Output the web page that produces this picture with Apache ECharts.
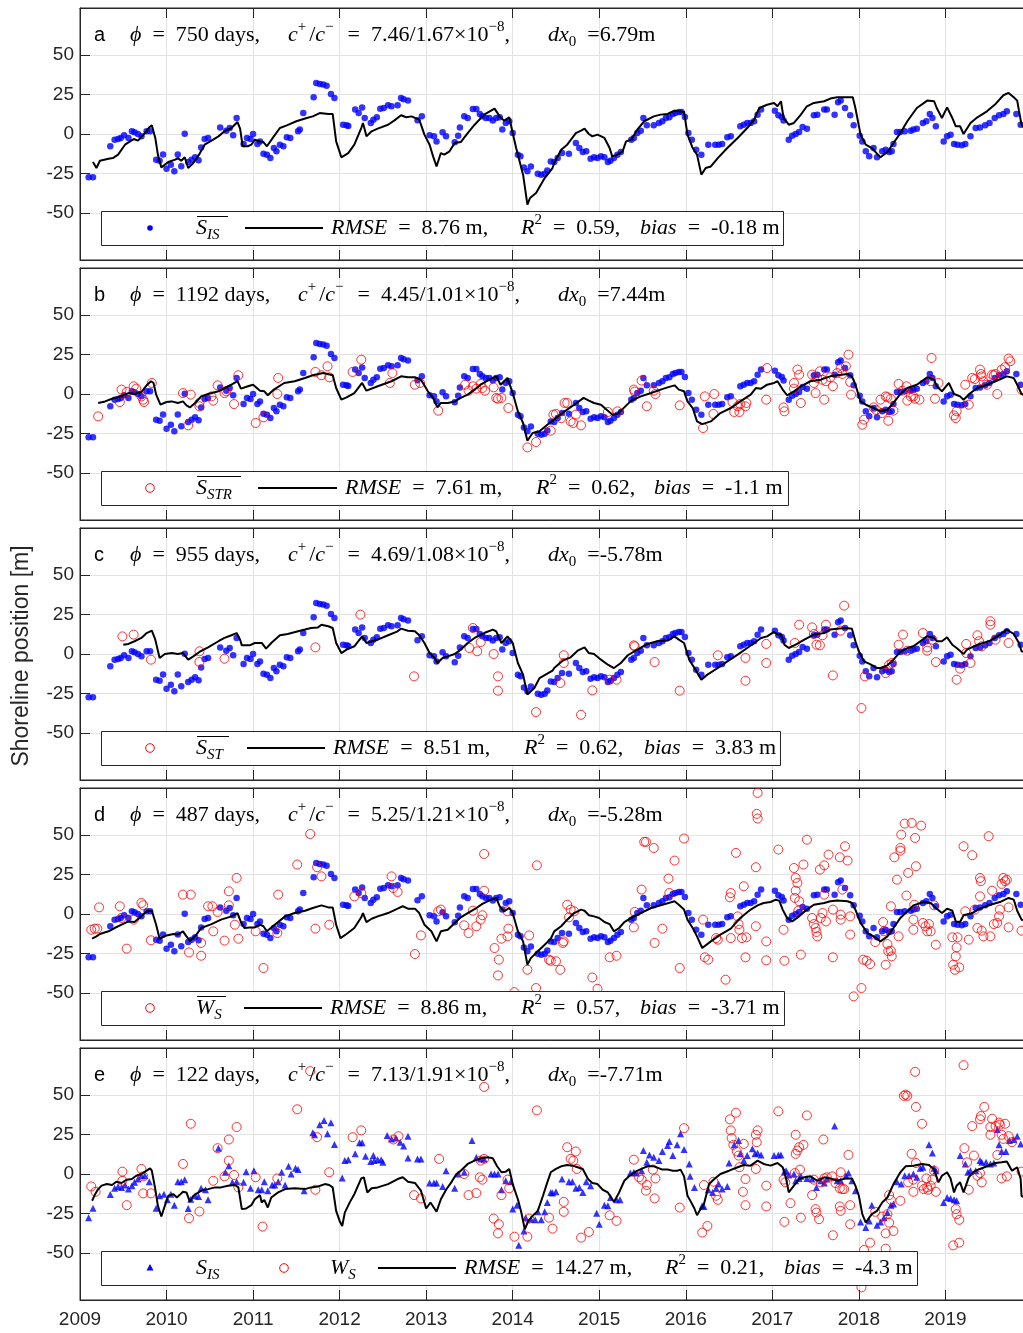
<!DOCTYPE html>
<html>
<head>
<meta charset="utf-8">
<script src="https://cdn.jsdelivr.net/npm/echarts@6/dist/echarts.min.js"></script>
<style>
html, body { margin: 0; padding: 0; background: #fff; }
#chart { width: 1023px; height: 1333px; }
</style>
</head>
<body>
<div id="chart"></div>
<script>
// ---- data (decimal year, shoreline position in m) ----
const yearTicks = [2009, 2010, 2011, 2012, 2013, 2014, 2015, 2016, 2017, 2018, 2019];
const posTicks = [-50, -25, 0, 25, 50];

// averaged image-derived shoreline (blue dots, panels a-d)
const sisMean = [[2009.10,-27.5],[2009.15,-27.5],[2009.35,-7.8],[2009.40,-3.6],[2009.44,-3.2],[2009.47,-2.5],[2009.51,-0.8],[2009.56,-2.5],[2009.60,1.7],[2009.63,1.1],[2009.67,0],[2009.71,-1.5],[2009.77,1.7],[2009.81,1.7],[2009.88,-16.3],[2009.92,-17],[2009.96,-13],[2010.00,-22],[2010.05,-19.5],[2010.09,-23.7],[2010.13,-13],[2010.17,-20.5],[2010.21,0.2],[2010.25,-17.8],[2010.29,-16.3],[2010.33,-14.8],[2010.37,-16.7],[2010.40,-8.5],[2010.44,-3.2],[2010.48,-2.5],[2010.62,4.2],[2010.69,2.1],[2010.73,3.8],[2010.77,-0.8],[2010.81,10.2],[2010.89,-6.4],[2010.93,-2.5],[2010.97,-3.2],[2011.00,0],[2011.05,-6.4],[2011.08,-4.7],[2011.12,-12.5],[2011.16,-13.1],[2011.20,-15.3],[2011.24,-8.9],[2011.27,-11],[2011.31,-6.8],[2011.35,-7.8],[2011.39,-2.1],[2011.43,-2.5],[2011.52,1.7],[2011.54,2.8],[2011.58,13.3],[2011.70,23.3],[2011.73,32.4],[2011.77,31.8],[2011.81,31.4],[2011.85,30.7],[2011.90,25.4],[2011.94,22.9],[2012.04,5.9],[2012.08,5.5],[2012.10,5.1],[2012.18,15.5],[2012.22,13.3],[2012.26,16.9],[2012.29,10.2],[2012.36,7.0],[2012.39,9.1],[2012.43,10.6],[2012.47,16.1],[2012.51,16.5],[2012.56,18.2],[2012.60,17.6],[2012.67,18.2],[2012.71,22.9],[2012.74,22.0],[2012.79,21.2],[2012.90,8.7],[2012.95,11.2],[2013.04,-0.8],[2013.09,-1.5],[2013.12,-4.7],[2013.19,1.1],[2013.23,-1.5],[2013.33,-5.3],[2013.37,-1.1],[2013.39,4.2],[2013.44,11.2],[2013.48,10.2],[2013.54,15.9],[2013.58,15.9],[2013.62,12.7],[2013.65,11.2],[2013.69,10.2],[2013.73,10.2],[2013.77,8.5],[2013.81,10.2],[2013.85,10.6],[2013.88,2.8],[2013.92,7],[2013.96,8.1],[2014.00,0.6],[2014.06,-13.1],[2014.09,-14.2],[2014.13,-21.2],[2014.17,-23.7],[2014.21,-20.6],[2014.29,-25.2],[2014.33,-25.8],[2014.37,-25.2],[2014.40,-23.1],[2014.44,-17.4],[2014.48,-17.8],[2014.52,-15.3],[2014.57,-12.1],[2014.65,-12.5],[2014.73,-5.7],[2014.77,-8.9],[2014.81,-11.4],[2014.85,-11],[2014.90,-15.7],[2014.94,-14.8],[2014.98,-15.3],[2015.02,-14.2],[2015.06,-14.8],[2015.10,-17.8],[2015.13,-17],[2015.17,-15.3],[2015.21,-13.1],[2015.25,-11.4],[2015.37,-3.6],[2015.40,-2.5],[2015.44,0.6],[2015.48,2.1],[2015.51,10.2],[2015.55,5.5],[2015.63,5.5],[2015.69,7],[2015.73,8.1],[2015.77,10.2],[2015.81,10.6],[2015.85,12.7],[2015.88,13.3],[2015.92,14],[2015.95,14],[2015.99,10.8],[2016.03,0.6],[2016.07,-3.6],[2016.12,-10],[2016.18,-13.1],[2016.26,-6.8],[2016.34,-6.8],[2016.38,-6.8],[2016.42,-6.4],[2016.48,-2.1],[2016.52,-1.5],[2016.63,4.9],[2016.67,5.9],[2016.71,7],[2016.75,7],[2016.79,8.1],[2016.83,12.3],[2016.87,15.5],[2017.03,14.8],[2017.07,11.9],[2017.11,10.8],[2017.13,8.5],[2017.19,-3.6],[2017.23,-1.1],[2017.27,0],[2017.31,1.3],[2017.35,4.4],[2017.40,3.4],[2017.48,11.9],[2017.52,12.3],[2017.60,15.5],[2017.63,15.5],[2017.72,12.3],[2017.76,20.1],[2017.79,21.2],[2017.84,16.5],[2017.90,11.9],[2017.94,5.5],[2018.01,-1.1],[2018.04,-4.7],[2018.08,-11],[2018.12,-14.2],[2018.17,-8.9],[2018.21,-14.8],[2018.27,-11],[2018.31,-10],[2018.35,-11.4],[2018.38,-11],[2018.40,-6.4],[2018.44,1.3],[2018.48,1.3],[2018.53,1.7],[2018.60,2.1],[2018.63,2.8],[2018.67,3.4],[2018.74,7],[2018.78,8.1],[2018.82,12.7],[2018.85,10.2],[2018.89,4.9],[2018.98,-4.7],[2019.02,-1.5],[2019.06,-0.4],[2019.10,-6.4],[2019.14,-6.8],[2019.19,-7.2],[2019.23,-6.4],[2019.29,-1.5],[2019.35,3.8],[2019.40,4.2],[2019.46,5.5],[2019.51,7],[2019.57,10.2],[2019.62,11.9],[2019.67,12.7],[2019.71,14.4],[2019.82,12.7],[2019.87,5.9]];

// model results (black lines)
const modelA = [[2009.15,-17.8],[2009.19,-21.6],[2009.23,-17],[2009.33,-15.7],[2009.38,-15.3],[2009.44,-13.1],[2009.52,-6.8],[2009.62,-3.2],[2009.67,-4.2],[2009.75,0.6],[2009.80,4.2],[2009.83,5.5],[2009.87,-2.5],[2009.90,-13.1],[2009.94,-21.2],[2010.02,-17.8],[2010.10,-16.3],[2010.13,-15.3],[2010.17,-17],[2010.21,-14.8],[2010.25,-21.6],[2010.31,-18.4],[2010.37,-13.6],[2010.44,-6.8],[2010.52,-4.2],[2010.60,-1.5],[2010.67,1.7],[2010.75,3.8],[2010.82,7.6],[2010.85,3.4],[2010.88,-7.8],[2010.94,-7.8],[2010.98,-6.8],[2011.02,-3.6],[2011.08,-4.7],[2011.12,-5.1],[2011.16,-7.8],[2011.24,-1.5],[2011.31,3.8],[2011.39,5.5],[2011.50,8.1],[2011.62,10.2],[2011.69,11.2],[2011.77,13.3],[2011.87,12.7],[2011.92,12.7],[2011.96,-4.7],[2012.02,-14.8],[2012.10,-12.1],[2012.17,-6.8],[2012.25,3.8],[2012.27,7],[2012.31,-1.5],[2012.37,1.7],[2012.44,3.4],[2012.56,5.9],[2012.63,8.5],[2012.71,11.9],[2012.77,10.6],[2012.83,11.2],[2012.87,10.2],[2012.92,9.1],[2012.98,-0.4],[2013.04,-6.8],[2013.08,-14.2],[2013.12,-20.6],[2013.17,-12.1],[2013.21,-13.1],[2013.27,-11],[2013.33,-5.7],[2013.40,-5.1],[2013.48,0.6],[2013.56,5.9],[2013.67,12.3],[2013.79,16.1],[2013.85,11.2],[2013.90,8.5],[2013.96,10.6],[2014.00,0.6],[2014.04,-8.9],[2014.12,-25.8],[2014.17,-44.9],[2014.20,-40.7],[2014.27,-37.5],[2014.37,-28],[2014.46,-21.6],[2014.48,-18.4],[2014.56,-10],[2014.63,-6.8],[2014.73,0.6],[2014.79,2.1],[2014.83,3.4],[2014.88,0],[2014.92,-1.5],[2014.98,-0.4],[2015.06,-2.5],[2015.12,-8.9],[2015.15,-14.2],[2015.21,-13.1],[2015.27,-11],[2015.31,-4.7],[2015.37,-3.6],[2015.44,2.8],[2015.52,8.1],[2015.63,11.2],[2015.71,12.3],[2015.79,12.7],[2015.87,14.8],[2015.92,14.4],[2015.98,14],[2016.02,-0.4],[2016.08,-8.9],[2016.13,-13.1],[2016.18,-25.8],[2016.23,-21.6],[2016.29,-20.6],[2016.37,-15.3],[2016.48,-8.9],[2016.60,-2.5],[2016.71,3.8],[2016.79,9.1],[2016.85,16.5],[2016.94,18.6],[2017.02,19.7],[2017.06,17.6],[2017.10,20.8],[2017.13,10.2],[2017.19,5.9],[2017.25,7],[2017.33,12.3],[2017.40,17.6],[2017.48,19.7],[2017.60,20.8],[2017.67,22.5],[2017.75,23.3],[2017.87,23.3],[2017.93,23.3],[2017.96,16.5],[2018.02,-0.4],[2018.08,-6.8],[2018.15,-8.9],[2018.25,-14.8],[2018.33,-11.4],[2018.40,-5.7],[2018.48,0.6],[2018.56,8.1],[2018.67,16.5],[2018.79,21.2],[2018.87,20.8],[2018.90,16.5],[2018.96,10.2],[2019.02,16.9],[2019.08,10.2],[2019.12,4.9],[2019.17,4.9],[2019.21,0],[2019.29,7],[2019.37,10.6],[2019.48,14.4],[2019.58,19.1],[2019.67,24.6],[2019.73,26.1],[2019.79,23.3],[2019.83,21.2],[2019.85,14.8],[2019.88,5.9],[2019.92,3]];

const modelB = [[2009.21,-5.7],[2009.29,-4.7],[2009.37,-3],[2009.44,-2.1],[2009.56,0.6],[2009.63,0],[2009.71,1.3],[2009.77,5.5],[2009.82,8.1],[2009.85,7],[2009.88,-0.4],[2009.93,-6.8],[2010.00,-5.1],[2010.06,-4.7],[2010.13,-5.7],[2010.19,-4.7],[2010.23,-7.2],[2010.27,-8.5],[2010.33,-5.7],[2010.40,-1.5],[2010.48,0],[2010.60,1.7],[2010.67,3.8],[2010.75,5.9],[2010.82,8.1],[2010.86,3.4],[2010.94,4.9],[2011.00,5.9],[2011.08,2.1],[2011.13,1.7],[2011.17,-0.8],[2011.24,2.8],[2011.36,7],[2011.48,8.1],[2011.60,10.2],[2011.69,11.9],[2011.81,13.3],[2011.92,11.9],[2011.96,3.8],[2012.02,-3.6],[2012.08,-2.1],[2012.17,0.6],[2012.26,7],[2012.31,2.1],[2012.44,4.9],[2012.60,8.1],[2012.71,11.2],[2012.79,10.6],[2012.87,10.6],[2012.94,9.1],[2013.02,1.7],[2013.08,-2.5],[2013.13,-8.5],[2013.17,-5.7],[2013.25,-5.7],[2013.33,-4.7],[2013.40,-2.5],[2013.48,-0.4],[2013.56,2.8],[2013.63,5.9],[2013.73,9.1],[2013.81,11.2],[2013.86,5.9],[2013.94,10.2],[2014.00,0.6],[2014.06,-11],[2014.12,-18.4],[2014.17,-29.7],[2014.23,-24.8],[2014.31,-23.7],[2014.40,-19.5],[2014.46,-17],[2014.48,-16.3],[2014.60,-11],[2014.71,-6.8],[2014.82,-2.5],[2014.88,-4.2],[2014.94,-5.7],[2015.02,-6.8],[2015.10,-10.6],[2015.15,-13.1],[2015.21,-12.7],[2015.29,-8.5],[2015.37,-4.2],[2015.48,-1.5],[2015.60,0.6],[2015.71,2.8],[2015.79,4.2],[2015.87,5.5],[2015.92,2.8],[2015.98,1.7],[2016.02,-4.7],[2016.08,-8.9],[2016.13,-17.4],[2016.19,-19.1],[2016.29,-17.4],[2016.40,-12.1],[2016.52,-8.9],[2016.63,-4.7],[2016.75,-0.4],[2016.81,3.8],[2016.87,3.4],[2016.94,5.9],[2017.02,7],[2017.06,8.1],[2017.12,2.8],[2017.17,-0.8],[2017.25,1.7],[2017.33,4.9],[2017.44,8.1],[2017.56,9.1],[2017.67,11.2],[2017.75,11.9],[2017.87,12.7],[2017.92,11.2],[2017.96,5.9],[2018.02,-4.7],[2018.08,-6.8],[2018.17,-8.9],[2018.25,-11],[2018.33,-10],[2018.40,-5.7],[2018.48,0],[2018.56,3.8],[2018.67,5.9],[2018.79,10.6],[2018.87,9.1],[2018.90,4.9],[2018.96,1.7],[2019.04,7],[2019.10,0],[2019.17,-1.5],[2019.21,-3.6],[2019.29,0.6],[2019.37,3.8],[2019.48,5.9],[2019.58,8.1],[2019.71,11.2],[2019.79,10.2],[2019.83,5.9],[2019.88,0],[2019.92,-1]];

const modelC = [[2009.50,5.9],[2009.56,6.4],[2009.63,8.1],[2009.71,10.2],[2009.77,13.3],[2009.83,14.8],[2009.87,9.1],[2009.92,-2.5],[2009.98,0],[2010.06,0.6],[2010.13,0],[2010.19,0.6],[2010.25,-3.6],[2010.31,-1.5],[2010.38,1.3],[2010.48,4.2],[2010.60,8.1],[2010.67,10.2],[2010.75,11.9],[2010.81,13.3],[2010.85,9.1],[2010.87,5.5],[2010.96,5.5],[2011.02,7],[2011.10,7],[2011.15,3.4],[2011.21,7],[2011.31,11.9],[2011.40,12.7],[2011.52,14.4],[2011.60,15.5],[2011.67,16.5],[2011.75,16.9],[2011.79,18.6],[2011.87,17.6],[2011.92,16.5],[2011.96,7],[2012.02,0.6],[2012.08,2.8],[2012.17,4.9],[2012.26,11.2],[2012.31,7],[2012.37,8.1],[2012.44,9.1],[2012.56,11.9],[2012.67,14.4],[2012.71,16.1],[2012.79,14.8],[2012.87,14.4],[2012.92,11.9],[2012.98,7],[2013.04,0.6],[2013.10,-2.5],[2013.13,-5.7],[2013.19,-2.5],[2013.25,-1.5],[2013.33,0],[2013.40,2.8],[2013.48,7],[2013.56,10.2],[2013.67,13.3],[2013.77,15.5],[2013.81,14.4],[2013.87,7],[2013.94,11.2],[2014.00,7],[2014.06,-5.7],[2014.12,-13.1],[2014.17,-25.8],[2014.25,-21.6],[2014.31,-15.3],[2014.38,-13.1],[2014.46,-10.6],[2014.48,-8.9],[2014.58,-4.2],[2014.67,-2.1],[2014.75,2.1],[2014.83,4.2],[2014.88,0.6],[2014.94,0],[2015.02,-3.6],[2015.10,-6.8],[2015.17,-8.9],[2015.25,-5.7],[2015.33,-0.8],[2015.44,2.8],[2015.56,6.4],[2015.67,8.1],[2015.79,8.5],[2015.87,11.2],[2015.92,9.1],[2015.98,7],[2016.04,-3.6],[2016.10,-8.9],[2016.18,-16.3],[2016.25,-13.1],[2016.37,-8.9],[2016.48,-4.7],[2016.60,-0.4],[2016.71,3.8],[2016.79,7],[2016.87,10.2],[2016.94,11.2],[2017.02,14],[2017.06,12.3],[2017.10,12.7],[2017.14,5.9],[2017.19,3.8],[2017.27,5.9],[2017.37,9.1],[2017.48,12.3],[2017.60,13.3],[2017.67,15.5],[2017.75,16.1],[2017.85,16.5],[2017.92,16.1],[2017.96,8.1],[2018.00,1.7],[2018.06,-4.7],[2018.13,-6.4],[2018.21,-8.9],[2018.25,-8.9],[2018.33,-7.2],[2018.40,-3.6],[2018.48,1.3],[2018.56,3.8],[2018.63,4.9],[2018.71,8.1],[2018.79,11.2],[2018.87,10.2],[2018.90,8.1],[2018.96,8.1],[2019.02,10.6],[2019.08,5.9],[2019.13,3.8],[2019.21,0],[2019.25,2.8],[2019.33,4.9],[2019.40,6.4],[2019.52,8.5],[2019.63,12.3],[2019.71,15.5],[2019.79,12.7],[2019.85,7],[2019.88,1.7],[2019.92,1]];

const modelD = [[2009.14,-15.7],[2009.19,-14.2],[2009.23,-12.7],[2009.33,-11],[2009.40,-8.9],[2009.48,-6.8],[2009.56,-4.7],[2009.63,-5.1],[2009.71,-1.5],[2009.77,1.7],[2009.83,2.1],[2009.88,-6.8],[2009.92,-15.7],[2010.00,-13.6],[2010.08,-12.7],[2010.13,-13.1],[2010.19,-11],[2010.23,-14.2],[2010.27,-16.9],[2010.33,-14.2],[2010.40,-8.9],[2010.52,-6.4],[2010.63,-3.6],[2010.75,-1.5],[2010.82,0.6],[2010.86,-5.1],[2010.90,-8.9],[2010.96,-8.5],[2011.02,-8.5],[2011.08,-6.8],[2011.12,-7.8],[2011.16,-11],[2011.25,-6.8],[2011.37,-1.5],[2011.48,0.6],[2011.60,2.1],[2011.69,3.8],[2011.79,5.5],[2011.87,4.2],[2011.92,4.2],[2011.96,-6.8],[2012.01,-15.3],[2012.08,-12.7],[2012.17,-8.9],[2012.25,-2.1],[2012.27,0.6],[2012.31,-5.1],[2012.37,-3],[2012.44,-1.5],[2012.56,0.6],[2012.67,3.4],[2012.73,4.9],[2012.79,3.4],[2012.87,3.4],[2012.92,0.6],[2012.98,-6.8],[2013.06,-11],[2013.12,-17.4],[2013.17,-11],[2013.25,-10],[2013.33,-5.7],[2013.40,-2.1],[2013.48,0.6],[2013.58,3.8],[2013.65,6.4],[2013.75,9.1],[2013.81,10.2],[2013.85,4.9],[2013.90,1.7],[2013.96,3.8],[2014.00,0.6],[2014.06,-11],[2014.12,-17.4],[2014.17,-32.2],[2014.21,-28],[2014.29,-23.7],[2014.37,-19.5],[2014.44,-15.7],[2014.48,-11],[2014.56,-7.8],[2014.63,-3.6],[2014.71,0.6],[2014.79,2.8],[2014.83,2.1],[2014.88,-0.8],[2014.94,-1.5],[2015.00,-2.5],[2015.06,-5.1],[2015.12,-6.4],[2015.17,-11],[2015.23,-8.9],[2015.29,-5.1],[2015.37,-2.5],[2015.48,0.6],[2015.60,3.8],[2015.71,5.5],[2015.87,8.1],[2015.92,5.9],[2015.98,2.8],[2016.02,-3.6],[2016.08,-8.9],[2016.13,-14.2],[2016.19,-21.6],[2016.29,-17.4],[2016.40,-13.1],[2016.52,-9.3],[2016.63,-2.5],[2016.75,2.8],[2016.83,5.5],[2016.90,7],[2016.98,7.6],[2017.04,9.1],[2017.08,8.5],[2017.12,2.8],[2017.17,-2.5],[2017.23,-4.7],[2017.31,-1.5],[2017.40,2.8],[2017.48,5.9],[2017.60,7],[2017.67,8.1],[2017.75,8.5],[2017.87,8.1],[2017.92,7],[2017.96,2.8],[2018.02,-5.7],[2018.10,-12.1],[2018.17,-14.2],[2018.25,-17.4],[2018.33,-14.2],[2018.40,-8.9],[2018.48,-2.5],[2018.56,1.7],[2018.63,5.5],[2018.75,7.6],[2018.83,7],[2018.90,3.4],[2018.96,0.6],[2019.02,3.4],[2019.08,2.1],[2019.12,-4.7],[2019.17,-5.1],[2019.21,-0.8],[2019.31,0.6],[2019.40,3.4],[2019.52,5.9],[2019.63,7.6],[2019.73,10.2],[2019.79,9.1],[2019.83,2.1],[2019.88,-3.6],[2019.92,-4]];

const modelE = [[2009.14,-17],[2009.17,-13.4],[2009.21,-9.6],[2009.25,-7.4],[2009.31,-6.4],[2009.37,-7],[2009.42,-4.9],[2009.48,-5.7],[2009.54,-3.6],[2009.60,-3.2],[2009.65,-1.1],[2009.71,0],[2009.77,2.1],[2009.81,3.6],[2009.83,2.1],[2009.87,-9.6],[2009.90,-20.2],[2009.94,-27],[2009.98,-20.2],[2010.02,-13.8],[2010.08,-12.8],[2010.12,-14.9],[2010.15,-13.4],[2010.19,-11.3],[2010.23,-11.7],[2010.27,-17.7],[2010.31,-13.8],[2010.37,-11.7],[2010.42,-10],[2010.48,-9.6],[2010.56,-8.5],[2010.63,-8.5],[2010.71,-7.4],[2010.79,-7],[2010.83,-8.5],[2010.87,-22.3],[2010.92,-21.9],[2010.98,-19.8],[2011.02,-16],[2011.08,-13.4],[2011.10,-18.1],[2011.13,-16.4],[2011.17,-21.3],[2011.21,-14.9],[2011.29,-11.7],[2011.37,-9.6],[2011.48,-9.1],[2011.60,-9.6],[2011.67,-8.5],[2011.75,-7.9],[2011.83,-6.4],[2011.88,-7],[2011.92,-8.5],[2011.96,-23.4],[2012.00,-29.8],[2012.03,-33],[2012.06,-24.5],[2012.12,-17.7],[2012.17,-12.8],[2012.25,-2.8],[2012.28,-2.1],[2012.32,-11.7],[2012.37,-9.1],[2012.44,-8.5],[2012.56,-6.4],[2012.67,-3.2],[2012.73,-2.1],[2012.79,-4.9],[2012.87,-5.7],[2012.94,-10.6],[2013.00,-21.9],[2013.05,-18.1],[2013.12,-24],[2013.17,-16],[2013.23,-10],[2013.29,-5.3],[2013.35,0],[2013.40,2.1],[2013.48,6.4],[2013.56,8.5],[2013.63,10],[2013.71,10.6],[2013.77,10],[2013.82,4.9],[2013.87,1.1],[2013.92,1.5],[2013.96,3.2],[2014.00,-6.4],[2014.06,-16],[2014.10,-24.5],[2014.14,-35.1],[2014.18,-29.8],[2014.23,-26.6],[2014.29,-23.4],[2014.35,-13.8],[2014.40,-5.3],[2014.44,1.1],[2014.50,3.2],[2014.56,4.9],[2014.63,5.7],[2014.69,5.3],[2014.75,4.3],[2014.81,3.2],[2014.87,-3.2],[2014.92,-5.7],[2014.98,-6.4],[2015.04,-10],[2015.10,-11.7],[2015.15,-16],[2015.17,-17.7],[2015.23,-11.7],[2015.29,-4.3],[2015.35,-1.1],[2015.42,1.5],[2015.50,3.6],[2015.56,4.9],[2015.63,4.9],[2015.73,2.8],[2015.79,2.8],[2015.85,2.1],[2015.90,2.1],[2015.94,2.8],[2015.98,-1.5],[2016.02,-13.8],[2016.06,-17.7],[2016.10,-21.9],[2016.13,-26.2],[2016.17,-22.3],[2016.21,-19.1],[2016.27,-6.4],[2016.33,-3.2],[2016.40,0],[2016.50,2.1],[2016.60,4.3],[2016.67,5.7],[2016.75,5.3],[2016.83,8.5],[2016.90,6.4],[2016.98,5.3],[2017.06,7],[2017.12,4.3],[2017.16,-3.2],[2017.19,-11.7],[2017.25,-7.4],[2017.31,-3.2],[2017.37,-2.1],[2017.44,-1.5],[2017.52,-4.3],[2017.60,-2.1],[2017.67,-2.8],[2017.75,-4.3],[2017.85,-2.8],[2017.92,-2.8],[2017.96,-7.4],[2018.00,-13.8],[2018.04,-25.5],[2018.08,-30.9],[2018.12,-27.7],[2018.15,-25.5],[2018.21,-23.4],[2018.27,-18.1],[2018.33,-14.9],[2018.40,-6.4],[2018.48,1.1],[2018.54,4.9],[2018.63,5.3],[2018.73,6.4],[2018.81,5.7],[2018.87,2.8],[2018.92,-5.3],[2018.96,-1.1],[2019.02,1.1],[2019.06,-2.8],[2019.10,-11.7],[2019.13,-7.4],[2019.17,-5.3],[2019.21,-11.7],[2019.27,-2.1],[2019.33,1.5],[2019.40,3.2],[2019.48,4.9],[2019.58,7],[2019.65,7.4],[2019.71,7.9],[2019.77,2.1],[2019.83,4.3],[2019.87,-3.2],[2019.88,-14],[2019.92,-15]];

// panel b: S_STR observations (red circles)
const sStr = [[2009.21,-14.2],[2009.46,-5.1],[2009.48,2.8],[2009.54,1.3],[2009.62,4.9],[2009.65,3.4],[2009.71,-1.5],[2009.73,-3.6],[2009.74,-5.1],[2009.83,7],[2010.19,0.6],[2010.25,-19.9],[2010.28,-0.4],[2010.38,-7.8],[2010.38,-5.7],[2010.52,-1.5],[2010.54,-4.2],[2010.59,5.5],[2010.67,0.6],[2010.69,1.7],[2010.78,-6.4],[2010.83,11.9],[2011.03,-18.4],[2011.12,-14.8],[2011.28,0],[2011.29,10.2],[2011.72,14],[2011.79,11.9],[2011.86,17.6],[2011.88,10.6],[2012.15,14],[2012.25,21.8],[2012.58,7],[2012.61,13.3],[2012.87,5.9],[2012.93,7],[2013.14,-10.6],[2013.45,5.9],[2013.49,2.1],[2013.54,4.9],[2013.58,3.4],[2013.63,6.4],[2013.65,3.8],[2013.68,2.1],[2013.78,4.2],[2013.81,-2.5],[2013.83,-3],[2013.87,-2.5],[2013.95,-8.9],[2014.17,-33.9],[2014.27,-30.5],[2014.44,-23.3],[2014.47,-13.1],[2014.50,-12.7],[2014.56,-15.3],[2014.60,-5.7],[2014.63,-5.7],[2014.67,-17.4],[2014.70,-18.4],[2014.73,-13.1],[2014.79,-19.9],[2015.10,-11.4],[2015.21,-11],[2015.40,2.8],[2015.41,1.5],[2015.49,8.5],[2015.55,-7.8],[2015.63,2.1],[2015.65,0],[2015.93,-7.2],[2016.20,-21.6],[2016.22,-1.5],[2016.32,-12.7],[2016.33,0],[2016.54,-5.1],[2016.56,-11.4],[2016.60,-7.8],[2016.62,-11.4],[2016.63,-6.4],[2016.69,-7.8],[2016.70,-5.7],[2016.93,-3.6],[2016.94,16.5],[2017.13,-8.5],[2017.14,-11],[2017.25,3.4],[2017.25,7],[2017.29,15.5],[2017.31,12.3],[2017.33,-5.7],[2017.46,12.3],[2017.48,7],[2017.50,0.6],[2017.52,10.2],[2017.55,14.4],[2017.58,9],[2017.60,-3.6],[2017.62,8.1],[2017.67,10.6],[2017.70,4.9],[2017.75,13.3],[2017.79,16.5],[2017.81,12.7],[2017.85,17.6],[2017.88,25],[2017.90,7.6],[2017.91,-0.4],[2018.04,-19.5],[2018.06,-16.3],[2018.17,-8.5],[2018.20,-10],[2018.25,-3.6],[2018.27,-12.1],[2018.31,-1.5],[2018.33,-2],[2018.34,-17],[2018.37,-3],[2018.40,-10.6],[2018.46,6.4],[2018.50,2.1],[2018.55,4.9],[2018.56,-4.2],[2018.60,-1.5],[2018.63,-1.5],[2018.65,-3],[2018.70,-3.6],[2018.83,8.1],[2018.84,22.9],[2018.88,-3],[2018.92,7],[2019.10,-13.6],[2019.12,-15.3],[2019.13,-11],[2019.23,5.9],[2019.27,-6.8],[2019.31,10.2],[2019.34,9.5],[2019.40,15.5],[2019.41,12.7],[2019.42,11.2],[2019.44,8.1],[2019.48,5.9],[2019.54,12.3],[2019.56,11.9],[2019.58,12.7],[2019.60,0],[2019.65,15.5],[2019.69,17],[2019.73,22.5],[2019.75,20.8],[2019.88,2.8]];

// panel c: S_ST observations
const sSt = [[2009.49,11.2],[2009.62,12.3],[2009.82,-3.6],[2010.38,1.7],[2010.38,-5.1],[2010.67,-3],[2011.72,4.2],[2012.24,25],[2012.86,-14.2],[2013.50,3.8],[2013.54,16.5],[2013.59,1.7],[2013.63,7.6],[2013.78,0],[2013.83,-14.2],[2013.83,-23.3],[2014.27,-36.9],[2014.55,-18.4],[2014.59,-0.8],[2014.59,-5.7],[2014.79,-38.6],[2014.92,-23.1],[2015.12,-16.3],[2015.20,-16.3],[2015.40,5.5],[2015.41,4.9],[2015.64,-5.1],[2015.93,-23.3],[2016.37,-0.8],[2016.69,-2.5],[2016.69,-17],[2016.93,6.4],[2016.93,-5.7],[2017.26,7],[2017.31,18.6],[2017.46,16.9],[2017.48,12.7],[2017.51,5.9],[2017.55,5.5],[2017.58,11.9],[2017.62,18.6],[2017.70,-13.6],[2017.79,14.8],[2017.83,30.7],[2018.03,-34.3],[2018.07,-14.2],[2018.31,-12.1],[2018.35,-6.8],[2018.38,-5.7],[2018.46,5.9],[2018.51,12.3],[2018.56,2.1],[2018.74,13.3],[2018.79,4.2],[2018.79,2.1],[2018.85,9.1],[2018.89,-5.1],[2019.13,-16.3],[2019.17,-9.3],[2019.24,6.4],[2019.24,0.6],[2019.29,-5.7],[2019.37,11.9],[2019.39,8.1],[2019.42,4.9],[2019.52,20.8],[2019.52,18.6],[2019.58,9.1],[2019.73,7]];

// panel d: W_S observations
const wsD = [[2009.13,-10],[2009.17,-9.3],[2009.20,-9.3],[2009.22,4.2],[2009.46,4.9],[2009.48,-2.5],[2009.54,-22],[2009.62,-3.6],[2009.71,7],[2009.73,5.5],[2009.82,-16.7],[2010.19,12.3],[2010.28,12.3],[2010.26,-24.4],[2010.40,-18.4],[2010.40,-26.5],[2010.48,4.9],[2010.53,4.9],[2010.54,-11],[2010.59,1.3],[2010.67,-16.9],[2010.72,14.4],[2010.72,5.5],[2010.79,-6.8],[2010.81,22.9],[2010.83,-15.7],[2011.03,-11],[2011.12,-34.3],[2011.29,12.3],[2011.28,-12.1],[2011.51,31.4],[2011.66,50.8],[2011.74,29.7],[2011.79,23.9],[2011.72,-9.3],[2011.88,-6.8],[2012.17,11.2],[2012.25,13.3],[2012.60,23.9],[2012.62,16.5],[2012.67,14],[2012.87,-25.4],[2012.94,-13.6],[2013.14,1.7],[2013.17,2.8],[2013.44,-7.2],[2013.49,-12.1],[2013.54,2.1],[2013.58,-7.8],[2013.63,-3.6],[2013.65,-0.8],[2013.67,14.8],[2013.67,38.1],[2013.79,-21.6],[2013.84,-29],[2013.83,-39],[2013.87,-15.7],[2013.94,-14.2],[2013.95,-9.3],[2013.94,1.7],[2014.02,-49.6],[2014.17,-35.4],[2014.19,-13.6],[2014.27,-47],[2014.28,30.9],[2014.42,-29],[2014.44,-29.7],[2014.50,-30],[2014.55,-35.4],[2014.58,-18.4],[2014.59,-17.4],[2014.63,5.9],[2014.65,-2.1],[2014.67,2.8],[2014.71,1.7],[2014.92,-40.3],[2014.98,-47.5],[2015.12,-27.5],[2015.20,-26.5],[2015.40,-8.5],[2015.41,1.3],[2015.49,15.5],[2015.52,45.8],[2015.54,45.8],[2015.63,41.9],[2015.64,-18.4],[2015.73,-9.3],[2015.80,22.5],[2015.81,13.3],[2015.87,33.9],[2015.93,-34.3],[2015.98,47.9],[2016.20,-3.6],[2016.22,-27.5],[2016.26,-29],[2016.35,-15.3],[2016.37,-16.3],[2016.46,-41.7],[2016.51,10.6],[2016.52,13.3],[2016.52,-15.3],[2016.58,38.8],[2016.60,-1.5],[2016.61,-6.4],[2016.62,-10],[2016.67,17.6],[2016.65,-15.3],[2016.69,-27.5],[2016.70,-14.8],[2016.81,-7.8],[2016.81,29.7],[2016.82,63.6],[2016.83,60.6],[2016.83,76.9],[2016.93,-17.4],[2016.93,-29.4],[2017.07,40.9],[2017.13,-10],[2017.14,-29.7],[2017.25,29.2],[2017.27,22.9],[2017.29,19.7],[2017.27,14.8],[2017.26,10.2],[2017.30,2.1],[2017.31,8.1],[2017.33,-25.8],[2017.36,31.4],[2017.40,47.2],[2017.46,-2.5],[2017.48,-6.4],[2017.50,-8.9],[2017.51,-11.4],[2017.52,-14.2],[2017.55,28.2],[2017.56,-2.5],[2017.58,0.6],[2017.60,30.9],[2017.60,12.3],[2017.62,-4.7],[2017.65,37.7],[2017.70,-27.5],[2017.70,2.8],[2017.78,36],[2017.79,-3.6],[2017.79,-0.4],[2017.81,15.5],[2017.84,43],[2017.87,33.9],[2017.90,-1.5],[2017.90,-13.1],[2017.94,-52.3],[2018.03,-47],[2018.05,-29],[2018.09,-29.7],[2018.13,-31.8],[2018.19,-17.8],[2018.28,-5.1],[2018.29,-11],[2018.31,-32.2],[2018.33,-19.1],[2018.34,-23.7],[2018.37,-23.3],[2018.38,-26.9],[2018.37,4.9],[2018.41,36],[2018.44,21.8],[2018.46,-14.2],[2018.48,41.9],[2018.48,40.2],[2018.49,50.4],[2018.53,57.4],[2018.55,11.7],[2018.57,26.1],[2018.61,57.8],[2018.63,-3.6],[2018.63,-10],[2018.64,5.9],[2018.65,48.3],[2018.66,30.3],[2018.72,56.1],[2018.74,-5.7],[2018.77,-7.8],[2018.79,-11],[2018.81,-6.4],[2018.83,-11],[2018.87,5.5],[2018.89,-19.5],[2019.08,-14.8],[2019.09,-32.2],[2019.12,-26.9],[2019.13,-21.2],[2019.16,-33.9],[2019.11,-35.4],[2019.14,-14.8],[2019.21,43],[2019.23,1.7],[2019.27,-16.3],[2019.31,37.3],[2019.34,2.8],[2019.37,-8.9],[2019.40,11.2],[2019.40,22.9],[2019.41,20.8],[2019.42,-10.6],[2019.44,-14.2],[2019.50,49.4],[2019.52,-14.2],[2019.54,14.8],[2019.56,-6.4],[2019.60,-5.7],[2019.62,-1.5],[2019.63,2.8],[2019.65,19.1],[2019.67,22.9],[2019.69,20.8],[2019.71,21.8],[2019.73,4.2],[2019.73,-8.5],[2019.88,-10.6]];

// panel e: raw S_IS (blue triangles) and W_S (red circles)
const sisRaw = [[2009.10,-27.7],[2009.15,-21.7],[2009.35,-13],[2009.40,-9.1],[2009.44,-7.9],[2009.48,-8.5],[2009.52,-7],[2009.56,-9.6],[2009.60,-7.4],[2009.63,-5.3],[2009.67,-3.2],[2009.71,-1.1],[2009.75,-1.1],[2009.80,-4.9],[2009.88,-21.7],[2009.92,-13.8],[2009.97,-12.8],[2010.01,-16.4],[2010.05,-12.8],[2010.09,-19.8],[2010.13,-4.9],[2010.17,-4.9],[2010.21,-3.6],[2010.25,-21.9],[2010.28,-16],[2010.33,-13.8],[2010.37,-14.3],[2010.40,-9.1],[2010.45,-10],[2010.48,-16.4],[2010.60,16.4],[2010.68,1.1],[2010.72,5.3],[2010.76,-5.3],[2010.81,-4.9],[2010.89,-5.3],[2010.92,1.5],[2010.97,-9.1],[2011.01,2.1],[2011.06,-10],[2011.10,-10],[2011.13,-4.9],[2011.17,-10.6],[2011.22,-7],[2011.25,-7],[2011.29,-4.9],[2011.33,1.1],[2011.37,-7],[2011.41,4.9],[2011.44,0],[2011.49,3.6],[2011.52,2.8],[2011.59,-10.6],[2011.69,26.2],[2011.71,24.9],[2011.77,31.3],[2011.82,34],[2011.86,25.5],[2011.90,32.6],[2011.94,18.7],[2012.03,-2.6],[2012.06,8.5],[2012.10,9.1],[2012.18,12.8],[2012.23,19.8],[2012.26,19.8],[2012.30,11.3],[2012.36,7.9],[2012.39,11.7],[2012.40,8.5],[2012.44,9.1],[2012.48,9.1],[2012.50,7.4],[2012.55,24.5],[2012.60,22.3],[2012.65,22.8],[2012.70,20.2],[2012.74,17.7],[2012.79,24],[2012.79,10.2],[2012.90,9.6],[2012.94,9.6],[2013.04,-5.7],[2013.09,-5.7],[2013.12,-5.7],[2013.19,-7.9],[2013.23,2.1],[2013.33,-9.1],[2013.37,0],[2013.44,1.1],[2013.53,21.3],[2013.58,10.6],[2013.63,9.6],[2013.67,9.6],[2013.75,0],[2013.79,0],[2013.83,0],[2013.87,-10],[2013.92,-4.3],[2013.98,-4.9],[2014.00,-22.3],[2014.05,-19.8],[2014.07,-45.3],[2014.13,-36.2],[2014.15,-27.7],[2014.21,-28.7],[2014.26,-29.1],[2014.29,-24],[2014.33,-29.1],[2014.37,-24],[2014.40,-18.1],[2014.44,-11.7],[2014.46,-12.1],[2014.50,-11.3],[2014.57,-3.2],[2014.65,-4.9],[2014.69,-4.9],[2014.73,-9.1],[2014.77,-8.5],[2014.81,-11.7],[2014.85,-4.9],[2014.90,-7.4],[2014.97,-24.9],[2015.00,-31.9],[2015.06,-19.8],[2015.10,-20.2],[2015.13,-14.9],[2015.20,-16.4],[2015.24,-16.4],[2015.36,0.6],[2015.40,1.1],[2015.43,0.6],[2015.49,2.1],[2015.51,14.9],[2015.55,7.4],[2015.58,12.1],[2015.63,10.6],[2015.69,8.5],[2015.73,14.3],[2015.79,18.1],[2015.81,20.6],[2015.85,11.7],[2015.90,18.5],[2015.94,25.5],[2015.98,15.5],[2016.04,6.4],[2016.05,-1.5],[2016.10,-8.5],[2016.19,-20.2],[2016.21,-20.6],[2016.26,-10],[2016.31,-11.7],[2016.35,-9.1],[2016.38,-6.4],[2016.42,-9.6],[2016.48,-7.9],[2016.50,7],[2016.56,18.5],[2016.61,21.3],[2016.63,12.8],[2016.67,8.5],[2016.71,11.7],[2016.77,16],[2016.80,12.8],[2016.83,13.4],[2016.87,12.1],[2017.02,11.7],[2017.07,12.1],[2017.10,12.1],[2017.14,1.5],[2017.16,2.1],[2017.19,-0.6],[2017.25,0],[2017.27,-4.3],[2017.31,-2.8],[2017.33,-1.5],[2017.40,-2.8],[2017.46,-3.2],[2017.51,-8.5],[2017.56,-4.3],[2017.60,-5.7],[2017.63,-3.2],[2017.72,30.4],[2017.75,-4.3],[2017.79,-4.3],[2017.85,-1.1],[2017.88,0.6],[2017.92,-4.3],[2017.96,-10.6],[2018.02,-30.4],[2018.08,-34],[2018.12,-29.8],[2018.15,-19.8],[2018.21,-32.6],[2018.25,-30.4],[2018.29,-27.7],[2018.33,-24.5],[2018.37,-19.8],[2018.40,-19.1],[2018.44,-4.9],[2018.49,-6.4],[2018.53,-1.1],[2018.58,-1.1],[2018.63,0],[2018.67,-2.1],[2018.71,3.6],[2018.74,4.3],[2018.81,18.5],[2018.85,13.4],[2018.87,3.6],[2018.89,2.1],[2018.98,-18.1],[2019.02,-14.9],[2019.06,-15.5],[2019.10,-16.4],[2019.13,-17],[2019.17,11.7],[2019.23,6.4],[2019.26,1.1],[2019.29,2.1],[2019.35,2.1],[2019.40,8.5],[2019.42,7.4],[2019.47,7.4],[2019.52,6.4],[2019.56,7],[2019.60,28.3],[2019.62,18.5],[2019.65,14.3],[2019.70,14.3],[2019.74,21.3],[2019.79,21.9],[2019.83,24],[2019.87,19.1]];

const wsE = [[2009.13,-7.9],[2009.18,-11.3],[2009.49,1.5],[2009.49,-4.3],[2009.54,-19.8],[2009.71,3.2],[2009.73,-1.5],[2009.73,-12.3],[2009.82,-12.3],[2010.19,6.4],[2010.26,-28.1],[2010.28,31.9],[2010.38,-23.8],[2010.54,-4.3],[2010.59,16.4],[2010.67,-1.5],[2010.72,8.5],[2010.72,21.9],[2010.78,-0.6],[2010.81,29.8],[2010.83,-8.5],[2011.03,-2.1],[2011.11,-33.4],[2011.28,-2.8],[2011.51,41.1],[2011.66,65.3],[2011.72,-10],[2011.74,23.4],[2011.88,1.1],[2012.15,23.4],[2012.25,27.7],[2012.62,21.9],[2012.68,24],[2012.86,-13.4],[2012.94,-15.5],[2013.15,9.6],[2013.44,0],[2013.49,-13.4],[2013.58,-12.1],[2013.62,-2.1],[2013.65,-3.6],[2013.63,8.5],[2013.67,9.6],[2013.67,55.3],[2013.78,-28.3],[2013.84,-31.9],[2013.83,-37.7],[2013.87,-13.4],[2013.94,-3.6],[2013.96,-9.1],[2014.02,-39.8],[2014.17,-39.8],[2014.19,-28.3],[2014.28,40.4],[2014.42,-27.7],[2014.46,-34.7],[2014.59,-17.7],[2014.59,-24],[2014.63,17],[2014.67,9.6],[2014.70,8.5],[2014.73,14.3],[2014.74,3.2],[2014.79,-40.4],[2014.88,-36.8],[2015.12,-26.2],[2015.20,-29.8],[2015.40,9.1],[2015.46,-2.1],[2015.49,-3.6],[2015.54,-10.6],[2015.55,-7],[2015.64,-15.5],[2015.62,2.8],[2015.65,-2.8],[2015.93,-21.3],[2015.98,29.1],[2016.19,-37.2],[2016.21,-7],[2016.25,-33],[2016.32,-4.9],[2016.35,-13.8],[2016.37,-16.4],[2016.51,34.7],[2016.52,27.7],[2016.53,22.8],[2016.55,18.5],[2016.58,38.9],[2016.59,14.3],[2016.61,11.7],[2016.62,4.3],[2016.67,19.1],[2016.66,-11.3],[2016.69,-19.8],[2016.69,-3.2],[2016.81,24.9],[2016.82,20.2],[2016.83,27.7],[2016.81,3.2],[2016.93,-7.4],[2016.93,-20.6],[2017.07,39.8],[2017.13,-3.6],[2017.14,-30.4],[2017.15,-5.3],[2017.21,-18.5],[2017.26,0.6],[2017.27,24.9],[2017.27,12.8],[2017.29,14.9],[2017.31,17],[2017.32,2.8],[2017.33,-27.7],[2017.36,18.5],[2017.40,37.2],[2017.46,-13.4],[2017.48,-3.6],[2017.50,-22.3],[2017.51,-24.5],[2017.54,-28.7],[2017.56,-5.3],[2017.59,21.9],[2017.60,-2.8],[2017.63,-2.1],[2017.69,-1.5],[2017.70,-38.9],[2017.73,-5.7],[2017.78,-9.1],[2017.78,-20.6],[2017.79,1.1],[2017.81,-9.6],[2017.83,-9.6],[2017.79,-23.4],[2017.88,12.1],[2017.90,-31.9],[2017.90,-19.8],[2018.03,-72],[2018.06,-48.3],[2018.13,-43.6],[2018.31,-37.7],[2018.31,-47.4],[2018.19,-24],[2018.27,-27],[2018.33,-25.5],[2018.35,-30.9],[2018.35,-13.4],[2018.37,-16.4],[2018.40,-36.2],[2018.48,-17],[2018.52,49.6],[2018.54,50.4],[2018.56,49.6],[2018.57,-5.3],[2018.61,12.8],[2018.63,-11.3],[2018.63,-3.6],[2018.65,64.9],[2018.66,42.6],[2018.66,7],[2018.73,31.9],[2018.73,-7.4],[2018.75,-9.6],[2018.78,-2.8],[2018.79,-8.5],[2018.80,-10],[2018.83,-7.4],[2018.85,-3.6],[2018.87,2.1],[2018.89,-11.3],[2019.12,-22.3],[2019.09,-45.3],[2019.16,-43.6],[2019.13,-25.5],[2019.16,-29.1],[2019.21,69.1],[2019.22,16.4],[2019.25,7.4],[2019.27,-10],[2019.31,30.4],[2019.33,11.7],[2019.37,-1.1],[2019.40,0.6],[2019.40,34.7],[2019.41,36.8],[2019.42,-5.3],[2019.45,42.6],[2019.52,24.9],[2019.52,29.8],[2019.54,35.1],[2019.58,30.4],[2019.60,12.1],[2019.62,32.6],[2019.63,31.3],[2019.65,24.9],[2019.65,-2.8],[2019.67,22.3],[2019.69,31.9],[2019.71,-1.5],[2019.73,24],[2019.77,20.2],[2019.88,1.5]];

// ---- layout & style ----
const chart = echarts.init(document.getElementById('chart'));
const SERIF = '"Liberation Serif", "DejaVu Serif", serif';
const SANS = '"Liberation Sans", Arial, sans-serif';
const AX = '#262626';
const GRIDC = '#e2e2e2';
const BLUE = '#0000ff';
const RED = '#ff0000';
const EN = '\u2002';   // en space, mimics the wide TeX spacing around "="
const TH = '\u2009';   // thin space
const panelTop = i => 8 + 260 * i;

const rich = {
  rm: { fontFamily: SERIF, fontSize: 22, lineHeight: 30, color: '#000' },
  it: { fontFamily: SERIF, fontSize: 22, lineHeight: 30, fontStyle: 'italic', color: '#000' },
  sup: { fontFamily: SERIF, fontSize: 15, lineHeight: 18, verticalAlign: 'top', color: '#000' },
  sub: { fontFamily: SERIF, fontSize: 15, lineHeight: 18, verticalAlign: 'bottom', color: '#000' },
  isub: { fontFamily: SERIF, fontSize: 15, lineHeight: 18, verticalAlign: 'bottom', fontStyle: 'italic', color: '#000' }
};

function txt(x, y, text, opts) {
  return Object.assign({
    type: 'text', x: x, y: y, z: 20,
    style: { text: text, rich: rich, font: '22px ' + SERIF, fill: '#000', align: 'left', verticalAlign: 'middle' }
  }, opts || {});
}

const titles = [
  ['a', '750', '7.46/1.67', '6.79', 288, 548],
  ['b', '1192', '4.45/1.01', '7.44', 298, 558],
  ['c', '955', '4.69/1.08', '-5.78', 288, 548],
  ['d', '487', '5.25/1.21', '-5.28', 288, 548],
  ['e', '122', '7.13/1.91', '-7.71', 288, 548]
];

const stats = [
  ['8.76', '0.59', '-0.18', 331, 521, 640],
  ['7.61', '0.62', '-1.1', 345, 536, 654],
  ['8.51', '0.62', '3.83', 333, 524, 644],
  ['8.86', '0.57', '-3.71', 330, 521, 640],
  ['14.27', '0.21', '-4.3', 464, 665, 784]
];
const boxRight = [783, 788, 780, 784, 917];

const graphic = [];
graphic.push({
  type: 'text', x: 22, y: 656, rotation: Math.PI / 2, z: 20,
  style: { text: 'Shoreline position [m]', font: '23px ' + SANS, fill: AX, align: 'center', verticalAlign: 'middle' }
});

titles.forEach(function (t, i) {
  const ty = panelTop(i) + 27;
  graphic.push({
    type: 'text', x: 94, y: ty, z: 20,
    style: { text: t[0], font: '20px ' + SANS, fill: '#000', align: 'left', verticalAlign: 'middle' }
  });
  graphic.push(txt(130, ty, '{it|\u03d5}{rm|' + EN + '=' + EN + t[1] + ' days,}'));
  graphic.push(txt(t[4], ty, '{it|c}{sup|+' + TH + '}{rm|/}{it|c}{sup|\u2212' + TH + '}{rm|' + EN + '=' + EN + t[2] + '\u00d710}{sup|\u22128}{rm|,}'));
  graphic.push(txt(t[5], ty, '{it|dx}{sub|0}{rm|' + EN + '=' + t[3] + 'm}'));

  // legend box
  const ly = panelTop(i) + 220;
  graphic.push({
    type: 'rect', z: 15,
    shape: { x: 101.5, y: ly - 16.5, width: boxRight[i] - 101, height: 34 },
    style: { fill: '#fff', stroke: AX, lineWidth: 1 }
  });
  const s = stats[i];
  graphic.push(txt(s[3], ly, '{it|RMSE}{rm|' + EN + '=' + EN + s[0] + ' m,}'));
  graphic.push(txt(s[4], ly, '{it|R}{sup|2}{rm|' + EN + '=' + EN + s[1] + ',}'));
  graphic.push(txt(s[5], ly, '{it|bias}{rm|' + EN + '=' + EN + s[2] + ' m}'));
});

// legend markers and labels
function lineSym(x1, x2, y) {
  return { type: 'line', z: 20, shape: { x1: x1, y1: y, x2: x2, y2: y }, style: { stroke: '#000', lineWidth: 2 } };
}
function dotSym(x, y) {
  return { type: 'circle', z: 20, shape: { cx: x, cy: y, r: 2.8 }, style: { fill: BLUE } };
}
function ringSym(x, y) {
  return { type: 'circle', z: 20, shape: { cx: x, cy: y, r: 4.3 }, style: { fill: 'none', stroke: RED, lineWidth: 1 } };
}
function triSym(x, y) {
  return { type: 'polygon', z: 20, shape: { points: [[x, y - 4], [x - 3.5, y + 2.5], [x + 3.5, y + 2.5]] }, style: { fill: BLUE } };
}
function overline(x1, x2, y) {
  return { type: 'line', z: 20, shape: { x1: x1, y1: y, x2: x2, y2: y }, style: { stroke: '#000', lineWidth: 1 } };
}

const la = panelTop(0) + 220, lb = panelTop(1) + 220, lc = panelTop(2) + 220, ld = panelTop(3) + 220, le = panelTop(4) + 220;
graphic.push(dotSym(150, la), txt(196, la, '{it|S}{isub|IS}'), overline(197, 228, la - 11.5), lineSym(245, 323, la));
graphic.push(ringSym(150, lb), txt(196, lb, '{it|S}{isub|STR}'), overline(197, 241, lb - 11.5), lineSym(258, 337, lb));
graphic.push(ringSym(150, lc), txt(196, lc, '{it|S}{isub|ST}'), overline(197, 229, lc - 11.5), lineSym(247, 325, lc));
graphic.push(ringSym(150, ld), txt(196, ld, '{it|W}{isub|S}'), overline(197, 226, ld - 11.5), lineSym(244, 322, ld));
graphic.push(triSym(150, le), txt(196, le, '{it|S}{isub|IS}'), ringSym(284, le), txt(330, le, '{it|W}{isub|S}'), lineSym(378, 456, le));

// ---- axes ----
const grids = [], xAxes = [], yAxes = [], series = [];
for (let i = 0; i < 5; i++) {
  grids.push({ left: 80, top: panelTop(i), width: 945, height: 252, show: true, borderColor: AX, borderWidth: 1, backgroundColor: '#fff', outerBoundsMode: 'none', containLabel: false });
  xAxes.push({
    gridIndex: i, type: 'value', min: 2009, max: 2019.92, interval: 1, position: 'bottom',
    axisLine: { show: true, onZero: false, lineStyle: { color: AX, width: 1 } },
    axisTick: { show: true, inside: true, length: 10, customValues: yearTicks, lineStyle: { color: AX } },
    axisLabel: { show: i === 4, customValues: yearTicks, formatter: v => String(Math.round(v)), fontSize: 19, fontFamily: SANS, color: AX, margin: 10 },
    splitLine: { show: true, lineStyle: { color: GRIDC, width: 1 } }
  });
  xAxes.push({
    gridIndex: i, type: 'value', min: 2009, max: 2019.92, interval: 1, position: 'top',
    axisLine: { show: true, onZero: false, lineStyle: { color: AX, width: 1 } },
    axisTick: { show: true, inside: true, length: 10, customValues: yearTicks, lineStyle: { color: AX } },
    axisLabel: { show: false },
    splitLine: { show: false }
  });
  yAxes.push({
    gridIndex: i, type: 'value', min: -80, max: 80,
    axisLine: { show: true, onZero: false, lineStyle: { color: AX, width: 1 } },
    axisTick: { show: true, inside: true, length: 10, customValues: posTicks, lineStyle: { color: AX } },
    axisLabel: { show: true, customValues: posTicks, fontSize: 19, fontFamily: SANS, color: AX, margin: 6 },
    splitLine: { show: true, lineStyle: { color: GRIDC, width: 1 } }
  });
}

function dots(i, data) {
  return { type: 'scatter', xAxisIndex: 2 * i, yAxisIndex: i, data: data, symbol: 'circle', symbolSize: 6.5, itemStyle: { color: BLUE }, z: 3, silent: true };
}
function rings(i, data) {
  return { type: 'scatter', xAxisIndex: 2 * i, yAxisIndex: i, data: data, symbol: 'circle', symbolSize: 9, itemStyle: { color: 'rgba(0,0,0,0)', borderColor: RED, borderWidth: 1 }, z: 4, silent: true };
}
function tris(i, data) {
  return { type: 'scatter', xAxisIndex: 2 * i, yAxisIndex: i, data: data, symbol: 'triangle', symbolSize: 7, itemStyle: { color: BLUE }, z: 3, silent: true };
}
function model(i, data) {
  return { type: 'line', xAxisIndex: 2 * i, yAxisIndex: i, data: data, showSymbol: false, symbol: 'none', lineStyle: { color: '#000', width: 2 }, z: 5, silent: true };
}

series.push(dots(0, sisMean), model(0, modelA));
series.push(dots(1, sisMean), rings(1, sStr), model(1, modelB));
series.push(dots(2, sisMean), rings(2, sSt), model(2, modelC));
series.push(dots(3, sisMean), rings(3, wsD), model(3, modelD));
series.push(tris(4, sisRaw), rings(4, wsE), model(4, modelE));

chart.setOption({
  animation: false,
  backgroundColor: '#fff',
  grid: grids,
  xAxis: xAxes,
  yAxis: yAxes,
  series: series,
  graphic: graphic
});
</script>
</body>
</html>
